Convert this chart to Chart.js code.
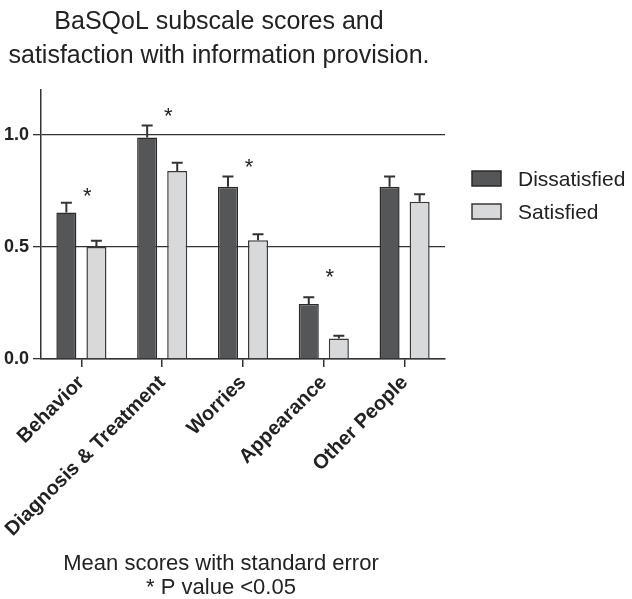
<!DOCTYPE html>
<html>
<head>
<meta charset="utf-8">
<script src="https://cdn.jsdelivr.net/npm/chart.js@4/dist/chart.umd.min.js"></script>
<style>
  html, body { margin: 0; padding: 0; background: #fff; }
  #wrap { width: 632px; height: 599px; position: relative; }
</style>
</head>
<body>
<div id="wrap"><canvas id="c" width="632" height="599"></canvas></div>
<script>
// BaSQoL subscale means by satisfaction with information provision
const categories = ['Behavior', 'Diagnosis & Treatment', 'Worries', 'Appearance', 'Other People'];
const dissatisfied = [0.653, 0.988, 0.768, 0.245, 0.768];
const dissatisfiedSE = [0.044, 0.054, 0.046, 0.030, 0.046];
const satisfied = [0.500, 0.839, 0.530, 0.091, 0.702];
const satisfiedSE = [0.027, 0.036, 0.027, 0.013, 0.033];
// height (in score units) of the significance asterisk per subscale; null = not significant
const starLevels = [0.75, 1.11, 0.88, 0.39, null];
const yTicks = [0, 0.5, 1.0];

const titleLines = ['BaSQoL subscale scores and', 'satisfaction with information provision.'];
const footerLines = ['Mean scores with standard error', '* P value <0.05'];

const INK = '#222';
const FONT = '"Liberation Sans", Arial, Helvetica, sans-serif';

// Upward standard-error whiskers with caps
const errorBars = {
  id: 'errorBars',
  afterDatasetsDraw(chart) {
    const ctx = chart.ctx;
    const y = chart.scales.y;
    ctx.save();
    ctx.strokeStyle = '#333';
    ctx.lineWidth = 2;
    chart.data.datasets.forEach((ds, i) => {
      const meta = chart.getDatasetMeta(i);
      meta.data.forEach((bar, j) => {
        const top = y.getPixelForValue(ds.data[j] + ds.se[j]);
        ctx.beginPath();
        ctx.moveTo(bar.x, bar.y);
        ctx.lineTo(bar.x, top);
        ctx.moveTo(bar.x - 5.5, top);
        ctx.lineTo(bar.x + 5.5, top);
        ctx.stroke();
      });
    });
    ctx.restore();
  }
};

// Significance markers above each subscale group
const stars = {
  id: 'stars',
  afterDatasetsDraw(chart) {
    const ctx = chart.ctx;
    const x = chart.scales.x, y = chart.scales.y;
    ctx.save();
    ctx.fillStyle = INK;
    ctx.font = '22px ' + FONT;
    ctx.textAlign = 'center';
    ctx.textBaseline = 'alphabetic';
    starLevels.forEach((lvl, i) => {
      if (lvl === null) return;
      ctx.fillText('*', x.getPixelForValue(i) + 6, y.getPixelForValue(lvl) + 12.5);
    });
    ctx.restore();
  }
};

// Title, footnote and legend
const annotations = {
  id: 'annotations',
  afterDraw(chart) {
    const ctx = chart.ctx;
    ctx.save();
    ctx.fillStyle = INK;
    ctx.textAlign = 'center';
    ctx.textBaseline = 'alphabetic';
    ctx.font = '25px ' + FONT;
    ctx.fillText(titleLines[0], 219, 29);
    ctx.fillText(titleLines[1], 219, 63);
    ctx.font = '22px ' + FONT;
    ctx.fillText(footerLines[0], 221, 570);
    ctx.fillText(footerLines[1], 221, 594);

    ctx.textAlign = 'left';
    ctx.font = '21px ' + FONT;
    chart.data.datasets.forEach((ds, i) => {
      const top = 171 + i * 33;
      ctx.fillStyle = ds.backgroundColor;
      ctx.fillRect(472, top, 29, 15);
      ctx.strokeStyle = ds.borderColor;
      ctx.lineWidth = 1.5;
      ctx.strokeRect(472, top, 29, 15);
      ctx.fillStyle = INK;
      ctx.fillText(ds.label, 518, top + 15);
    });
    ctx.restore();
  }
};

new Chart(document.getElementById('c'), {
  type: 'bar',
  data: {
    labels: categories,
    datasets: [
      {
        label: 'Dissatisfied',
        data: dissatisfied,
        se: dissatisfiedSE,
        backgroundColor: '#545658',
        borderColor: '#2a2a2a',
        borderWidth: 1.5,
        borderSkipped: 'bottom'
      },
      {
        label: 'Satisfied',
        data: satisfied,
        se: satisfiedSE,
        backgroundColor: '#d8d9db',
        borderColor: '#3a3a3a',
        borderWidth: 1.5,
        borderSkipped: 'bottom'
      }
    ]
  },
  options: {
    responsive: false,
    animation: false,
    devicePixelRatio: 1,
    categoryPercentage: 0.744,
    barPercentage: 0.667,
    layout: { padding: { top: 90, right: 187, left: 0, bottom: 0 } },
    plugins: {
      legend: { display: false },
      title: { display: false },
      tooltip: { enabled: false }
    },
    scales: {
      x: {
        afterFit(s) { s.height = 240; },
        grid: {
          display: true,
          drawOnChartArea: false,
          drawTicks: true,
          tickLength: 8,
          offset: false,
          color: '#333',
          lineWidth: 1.5
        },
        border: { display: true, color: '#333', width: 1.5 },
        ticks: {
          autoSkip: false,
          maxRotation: 45,
          minRotation: 45,
          padding: 4,
          color: INK,
          font: { family: FONT, size: 20, weight: 'bold' }
        }
      },
      y: {
        min: 0,
        max: 1.2,
        afterFit(s) { s.width = 41; },
        afterBuildTicks(s) { s.ticks = yTicks.map(v => ({ value: v })); },
        grid: {
          color: '#333',
          lineWidth: 1.3,
          tickLength: 8,
          drawTicks: true
        },
        border: { display: true, color: '#333', width: 1.5 },
        ticks: {
          padding: 4,
          color: INK,
          font: { family: FONT, size: 18, weight: 'bold' },
          callback: v => v.toFixed(1)
        }
      }
    }
  },
  plugins: [errorBars, stars, annotations]
});
</script>
</body>
</html>
